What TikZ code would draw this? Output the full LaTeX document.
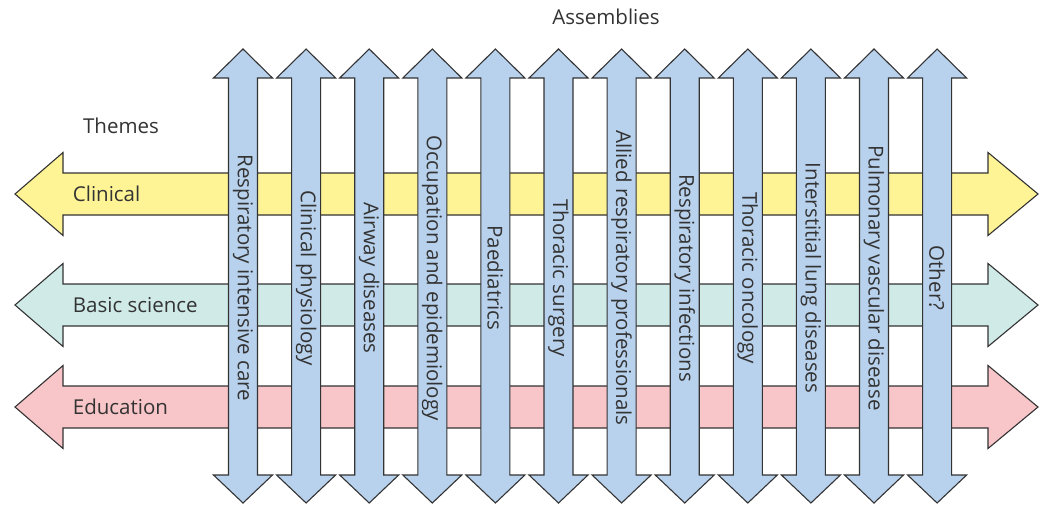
\documentclass[tikz,border=0pt]{standalone}
\usepackage{fontspec}
\setmainfont{Open Sans}
\definecolor{bordo}{HTML}{333333}
\definecolor{testo}{HTML}{333333}
\definecolor{blu}{HTML}{B8D1EC}
\definecolor{giallo}{HTML}{FFF495}
\definecolor{verde}{HTML}{CFEAE7}
\definecolor{rosa}{HTML}{F8C5C8}
\begin{document}
\begin{tikzpicture}[x=1pt, y=-1pt, line width=1.1pt, every node/.style={font=\fontsize{20.5}{24}\selectfont, text=testo}]
			\useasboundingbox (0,0) rectangle (1043,504);
			% Titoli
			\node (assemblee) at (606,17) {Assemblies};
			\node (temi) at (121,126) {Themes};
			
			% Frecce orizzontali (temi)
			\foreach \y/\col/\nome/\testo in {194/giallo/clin/Clinical, 305/verde/base/Basic science, 407/rosa/edu/Education} {
				\filldraw[fill=\col, draw=bordo] (15,\y) -- (63,\y-41.5) -- (63,\y-21) -- (988,\y-21) -- (988,\y-41.5) -- (1038,\y) -- (988,\y+41.5) -- (988,\y+21) -- (63,\y+21) -- (63,\y+41.5) -- cycle;
				\node[anchor=west] (\nome) at (69,\y) {\testo};
			}
			
			% Frecce verticali (assemblee)
			\foreach \testo [count=\i from 0] in {Respiratory intensive care, Clinical physiology, Airway diseases, Occupation and epidemiology, Paediatrics, Thoracic surgery, Allied respiratory professionals, Respiratory infections, Thoracic oncology, Interstitial lung diseases, Pulmonary vascular disease, Other?} {
				\pgfmathsetmacro\x{243+63.1*\i}
				\filldraw[fill=blu, draw=bordo] (\x,49) -- (\x+29.5,78) -- (\x+14.5,78) -- (\x+14.5,475) -- (\x+29.5,475) -- (\x,503) -- (\x-29.5,475) -- (\x-14.5,475) -- (\x-14.5,78) -- (\x-29.5,78) -- cycle;
				\node[rotate=-90] (ass\i) at (\x,278) {\testo};
			}
		\end{tikzpicture}
\end{document}
